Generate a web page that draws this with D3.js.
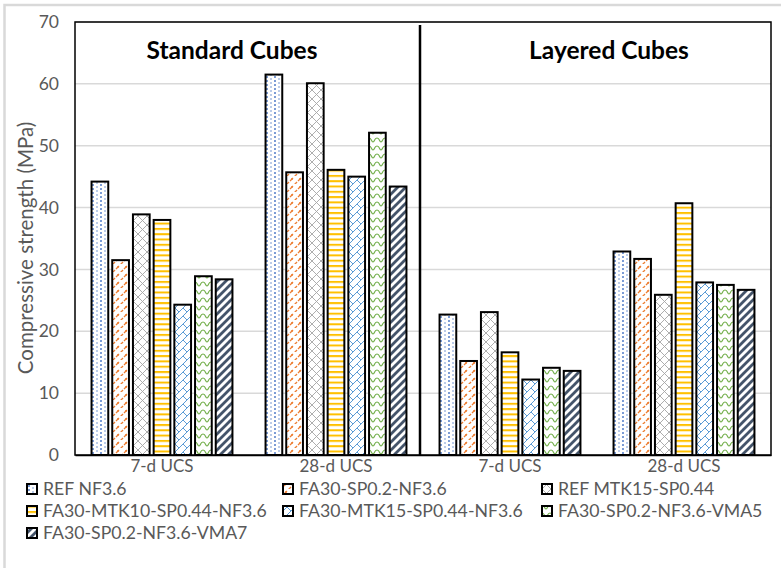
<!DOCTYPE html>
<html><head><meta charset="utf-8">
<script src="https://cdn.jsdelivr.net/npm/d3@7"></script>
<style>
html,body{margin:0;padding:0;background:#fff;}
svg{display:block;font-family:Lato, "Open Sans", sans-serif;}
</style></head>
<body><svg id="chart" width="781" height="568"></svg>
<script>
const categories = ["7-d UCS", "28-d UCS", "7-d UCS", "28-d UCS"];
const panelTitles = ["Standard Cubes", "Layered Cubes"];
const seriesNames = ["REF NF3.6", "FA30-SP0.2-NF3.6", "REF MTK15-SP0.44",
  "FA30-MTK10-SP0.44-NF3.6", "FA30-MTK15-SP0.44-NF3.6", "FA30-SP0.2-NF3.6-VMA5", "FA30-SP0.2-NF3.6-VMA7"];
const refNF36      = [44.2, 61.5, 22.7, 32.9];
const fa30SP02     = [31.5, 45.7, 15.2, 31.7];
const refMTK15     = [38.9, 60.1, 23.1, 25.9];
const fa30MTK10    = [38.0, 46.1, 16.6, 40.7];
const fa30MTK15    = [24.3, 45.0, 12.2, 27.9];
const fa30VMA5     = [28.9, 52.1, 14.1, 27.5];
const fa30VMA7     = [28.4, 43.4, 13.6, 26.7];
const yTicks = [0, 10, 20, 30, 40, 50, 60, 70];
const seriesValues = [refNF36, fa30SP02, refMTK15, fa30MTK10, fa30MTK15, fa30VMA5, fa30VMA7];

const svg = d3.select("#chart");
const W = 781, H = 568;
const m = {left: 75, right: 10, top: 22, bottom: 113};
const pw = W - m.left - m.right, ph = H - m.top - m.bottom;

// outer chart border
svg.append("rect").attr("x", 4.5).attr("y", 5).attr("width", 800).attr("height", 600)
  .attr("fill", "none").attr("stroke", "#d9d9d9").attr("stroke-width", 2.5);

// patterns
const defs = svg.append("defs");
function pat(id, w, h, draw) {
  const p = defs.append("pattern").attr("id", id).attr("patternUnits", "userSpaceOnUse")
    .attr("width", w).attr("height", h);
  p.append("rect").attr("width", w).attr("height", h).attr("fill", "#fff");
  draw(p);
}
pat("p0", 8, 8, p => {
  [[2, 1], [6, 3], [2, 5], [6, 7]].forEach(([cx, cy], j) =>
    p.append("circle").attr("cx", cx).attr("cy", cy).attr("r", j % 2 ? 0.7 : 0.95).attr("fill", "#4472C4"));
});
pat("p1", 8, 8, p => {
  p.append("path").attr("d", "M1,5 L4,2 M5,9 L8,6 M-3,9 L0,6").attr("stroke", "#ED7D31").attr("stroke-width", 1.3);
  p.append("circle").attr("cx", 3).attr("cy", 3).attr("r", 0.9).attr("fill", "#ED7D31");
});
pat("p2", 9, 9, p => {
  p.append("path").attr("d", "M0,0 L9,9 M9,0 L0,9").attr("stroke", "#A5A5A5").attr("stroke-width", 0.9);
});
pat("p3", 6, 5.3, p => {
  p.append("rect").attr("y", 0).attr("width", 6).attr("height", 2).attr("fill", "#FFC000");
});
pat("p4", 8, 8, p => {
  p.append("path").attr("d", "M0,8 L8,0 M4,4 L8,8 M-4,4 L0,8").attr("stroke", "#5B9BD5").attr("stroke-width", 1);
});
pat("p5", 8, 8, p => {
  p.append("path").attr("d", "M0,2 C3,2 2,6 4,6 C6,6 5,2 8,2").attr("fill", "none").attr("stroke", "#70AD47").attr("stroke-width", 1.1);
});
pat("p6", 8, 8, p => {
  p.append("path").attr("d", "M-1,9 L9,-1 M-5,5 L5,-5 M3,13 L13,3").attr("stroke", "#44546A").attr("stroke-width", 2.8);
});

// scales
const x0 = d3.scaleBand().domain(d3.range(categories.length)).range([m.left, m.left + pw]).padding(0);
const bw0 = x0.bandwidth();
const inner = 140.9;
const x1 = d3.scaleBand().domain(seriesNames).range([(bw0 - inner) / 2, (bw0 + inner) / 2]).paddingInner(0.193);
const y = d3.scaleLinear().domain([0, 70]).range([m.top + ph, m.top]);

// gridlines
svg.append("g").selectAll("line").data(yTicks.filter(d => d > 0)).join("line")
  .attr("x1", m.left).attr("x2", m.left + pw)
  .attr("y1", d => y(d)).attr("y2", d => y(d))
  .attr("stroke", "#d9d9d9").attr("stroke-width", 1.5);

// y axis labels
const yAxis = svg.append("g").attr("transform", `translate(${m.left - 16},0)`)
  .call(d3.axisLeft(y).tickValues(yTicks).tickSize(0).tickPadding(0));
yAxis.select(".domain").remove();
yAxis.selectAll("text").attr("fill", "#595959").style("font-size", "17.5px").style("font-family", "Lato");

// y title
svg.append("text").attr("transform", `translate(33,248) rotate(-90)`)
  .attr("text-anchor", "middle").attr("fill", "#595959").style("font-size", "20.5px")
  .text("Compressive strength (MPa)");

// bars
const groups = svg.append("g").selectAll("g").data(categories.map((c, i) => i)).join("g")
  .attr("transform", i => `translate(${x0(i)},0)`);
groups.selectAll("rect").data(i => seriesNames.map((s, k) => ({s, k, v: seriesValues[k][i]}))).join("rect")
  .attr("x", d => x1(d.s)).attr("width", x1.bandwidth())
  .attr("y", d => y(d.v)).attr("height", d => y(0) - y(d.v))
  .attr("fill", d => `url(#p${d.k})`).attr("stroke", "#000").attr("stroke-width", 2);

// plot frame
svg.append("rect").attr("x", m.left).attr("y", m.top).attr("width", pw).attr("height", ph)
  .attr("fill", "none").attr("stroke", "#000").attr("stroke-width", 1.5);

// x axis
const xAxis = svg.append("g").attr("transform", `translate(0,${m.top + ph})`)
  .call(d3.axisBottom(x0).tickSize(0).tickPadding(5).tickFormat(i => categories[i]));
xAxis.select(".domain").attr("stroke", "#000").attr("stroke-width", 1.5);
xAxis.selectAll("text").attr("fill", "#595959").style("font-size", "17px").style("font-family", "Lato");

// divider between panels
svg.append("line").attr("x1", x0(2) - 3).attr("x2", x0(2) - 3).attr("y1", m.top + 3).attr("y2", m.top + ph)
  .attr("stroke", "#000").attr("stroke-width", 2.5);

// panel titles
svg.selectAll(".ptitle").data(panelTitles).join("text").attr("class", "ptitle")
  .attr("x", (d, i) => (x0(i * 2) + x0(i * 2 + 1) + bw0) / 2 + (i === 0 ? -17 : 12))
  .attr("y", 59).attr("text-anchor", "middle")
  .style("font-size", "24.5px").style("font-weight", "bold").attr("fill", "#000").text(d => d);

// legend
const legX = [27, 283, 542], legY = [489, 511, 533];
const leg = svg.append("g").selectAll("g").data(seriesNames).join("g")
  .attr("transform", (d, k) => `translate(${legX[k % 3]},${legY[Math.floor(k / 3)]})`);
leg.append("rect").attr("x", 0).attr("y", -5).attr("width", 10).attr("height", 10)
  .attr("fill", (d, k) => `url(#p${k})`).attr("stroke", "#000").attr("stroke-width", 2);
leg.append("text").attr("x", 16).attr("y", 6).attr("fill", "#595959").style("font-size", "17.7px").text(d => d);
</script></body></html>
